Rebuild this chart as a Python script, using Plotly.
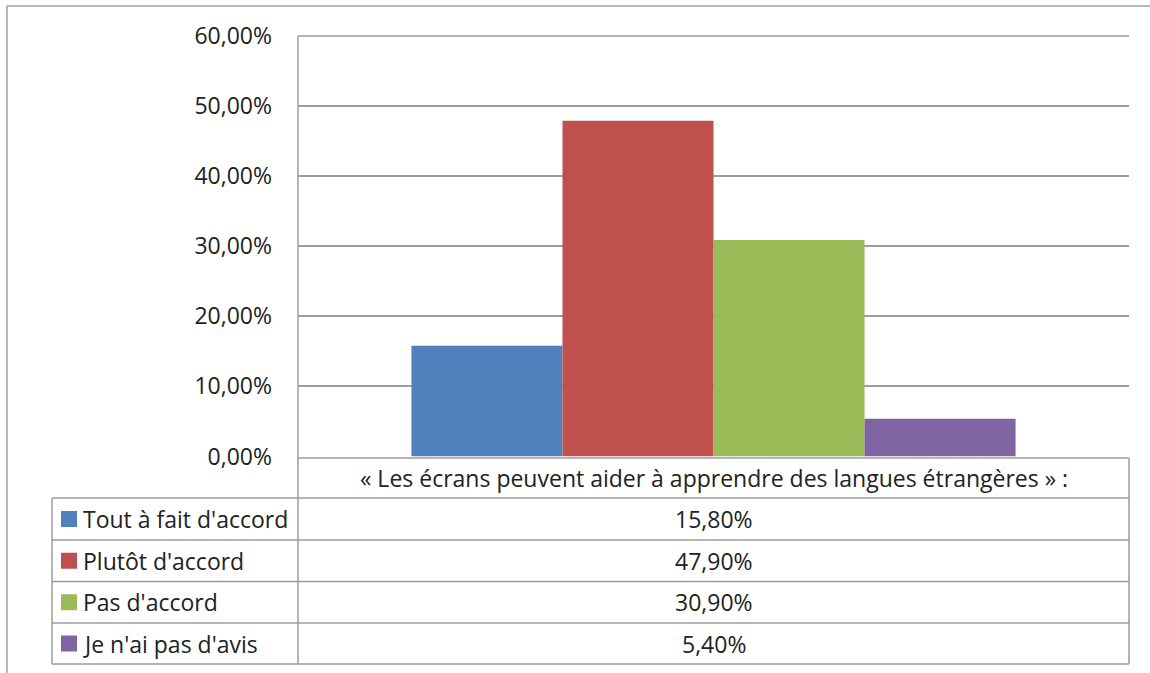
import plotly.graph_objects as go

# Survey answers and their shares (percent)
question = "« Les écrans peuvent aider à apprendre des langues étrangères » :"
answers = ["Tout à fait d'accord", "Plutôt d'accord", "Pas d'accord", "Je n'ai pas d'avis"]
shares = [15.80, 47.90, 30.90, 5.40]
colors = ["#4F81BD", "#C0504D", "#9BBB59", "#8064A2"]
y_ticks = [0, 10, 20, 30, 40, 50, 60]

W, H = 1150, 673
FONT = "Open Sans"
FS = 23
TXT = "#222222"
GRID = "#9C9C9C"

# Pixel layout of the plot area and of the data table
px_left, px_right = 298, 1129
px_top, px_zero = 36, 456.5
table_left = 52
header_bottom = 498
row_bottoms = [540, 581.5, 623, 664]

def fx(px):
    return px / W

def fy(py):
    return 1 - py / H

fig = go.Figure()
for name, val, col in zip(answers, shares, colors):
    fig.add_trace(go.Bar(
        x=[question], y=[val / 100], name=name,
        marker=dict(color=col, line=dict(width=0)),
        showlegend=False, hoverinfo="skip",
    ))

fig.update_layout(
    width=W, height=H, autosize=False,
    margin=dict(l=0, r=0, t=0, b=0, pad=0),
    paper_bgcolor="white", plot_bgcolor="white",
    barmode="group", bargap=0.273, bargroupgap=0,
    separators=", ",
    showlegend=False,
    font=dict(family=FONT, size=FS, color=TXT),
    xaxis=dict(domain=[fx(px_left), fx(px_right)], showticklabels=False,
               showgrid=False, zeroline=False, showline=False, ticks="",
               automargin=False),
    yaxis=dict(domain=[fy(px_zero), fy(px_top)], range=[0, 0.6],
               tickvals=[t / 100 for t in y_ticks], tickformat=".2%",
               showgrid=True, gridcolor=GRID, gridwidth=1.5,
               zeroline=False, showline=False, ticks="", ticklabelstandoff=25,
               automargin=False,
               tickfont=dict(family=FONT, size=FS, color=TXT)),
)

shapes = []
line = dict(color=GRID, width=1.5)

def hline(x0, x1, y):
    shapes.append(dict(type="line", xref="paper", yref="paper",
                       x0=fx(x0), x1=fx(x1), y0=fy(y), y1=fy(y), line=line))

def vline(x, y0, y1):
    shapes.append(dict(type="line", xref="paper", yref="paper",
                       x0=fx(x), x1=fx(x), y0=fy(y0), y1=fy(y1), line=line))

# Outer chart frame (top and left edges)
shapes.append(dict(type="line", xref="paper", yref="paper", x0=fx(7), x1=1,
                   y0=fy(6), y1=fy(6), line=dict(color="#A0A0A0", width=1.5)))
shapes.append(dict(type="line", xref="paper", yref="paper", x0=fx(7), x1=fx(7),
                   y0=fy(6), y1=0, line=dict(color="#A0A0A0", width=1.5)))

# Top edge of the plot area, axis line and data table grid
hline(px_left, px_right, px_top)
vline(px_left, px_top, row_bottoms[-1])
hline(px_left, px_right, px_zero + 1.5)
vline(px_right, px_zero + 1.5, row_bottoms[-1])
hline(table_left, px_right, header_bottom)
vline(table_left, header_bottom, row_bottoms[-1])
for yb in row_bottoms:
    hline(table_left, px_right, yb)

annotations = []
center_x = (px_left + px_right) / 2
annotations.append(dict(xref="paper", yref="paper", x=fx(center_x),
                        y=fy((px_zero + header_bottom) / 2 + 1), text=question,
                        showarrow=False, xanchor="center", yanchor="middle",
                        font=dict(family=FONT, size=FS, color=TXT)))

prev = header_bottom
for name, val, col, yb in zip(answers, shares, colors, row_bottoms):
    cy = (prev + yb) / 2
    shapes.append(dict(type="rect", xref="paper", yref="paper",
                       x0=fx(61), x1=fx(77), y0=fy(cy - 8), y1=fy(cy + 8),
                       fillcolor=col, line=dict(width=0)))
    annotations.append(dict(xref="paper", yref="paper", x=fx(81), y=fy(cy),
                            text=name, showarrow=False, xanchor="left",
                            yanchor="middle",
                            font=dict(family=FONT, size=FS, color=TXT)))
    annotations.append(dict(xref="paper", yref="paper", x=fx(center_x), y=fy(cy),
                            text=f"{val:.2f}".replace(".", ",") + "%",
                            showarrow=False, xanchor="center", yanchor="middle",
                            font=dict(family=FONT, size=FS, color=TXT)))
    prev = yb

fig.update_layout(shapes=shapes, annotations=annotations)
fig.write_html("out.html")
